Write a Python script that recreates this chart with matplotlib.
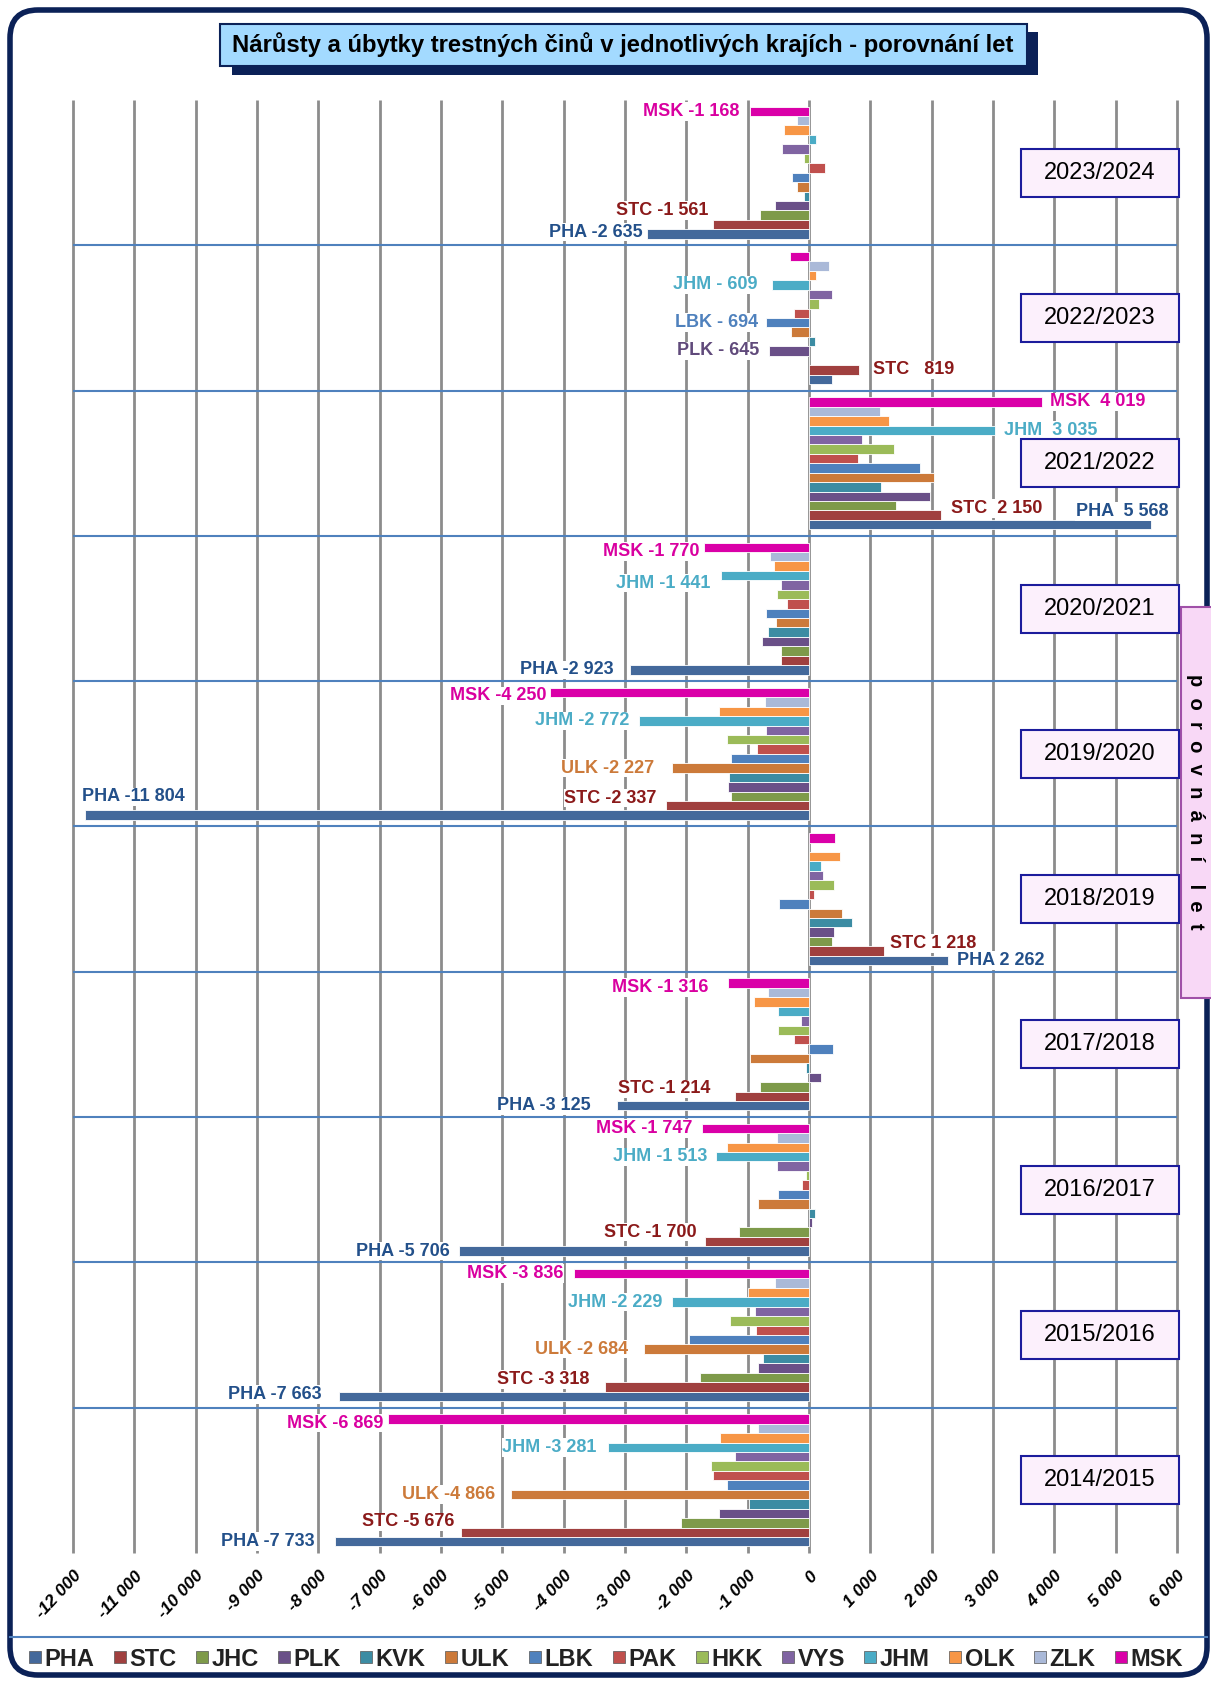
import matplotlib
matplotlib.use('Agg')
import matplotlib.pyplot as plt
import numpy as np
from matplotlib.patches import Rectangle, FancyBboxPatch
from matplotlib.lines import Line2D
from matplotlib.transforms import blended_transform_factory

plt.rcParams['font.family'] = ['Liberation Sans', 'DejaVu Sans']

REGIONS = ['PHA', 'STC', 'JHC', 'PLK', 'KVK', 'ULK', 'LBK', 'PAK', 'HKK', 'VYS',
           'JHM', 'OLK', 'ZLK', 'MSK']
COLORS = ['#44699B', '#A0403F', '#7E9A4A', '#6A5088', '#3C8CA3', '#CC7A3A', '#4F81BD',
          '#C0504D', '#9BBB59', '#8064A2', '#4BACC6', '#F79646', '#AAB9D8', '#DA00A8']
PERIODS = ['2014/2015', '2015/2016', '2016/2017', '2017/2018', '2018/2019',
           '2019/2020', '2020/2021', '2021/2022', '2022/2023', '2023/2024']

# changes per region, order as REGIONS (PHA ... MSK)
d_1415 = [-7733, -5676, -2082, -1467, -984, -4866, -1342, -1560, -1598, -1212, -3281, -1451, -837, -6869]
d_1516 = [-7663, -3318, -1772, -826, -745, -2684, -1957, -870, -1283, -880, -2229, -995, -554, -3836]
d_1617 = [-5706, -1700, -1141, 49, 103, -837, -505, -114, -49, -516, -1513, -1342, -522, -1747]
d_1718 = [-3125, -1214, -799, 201, -43, -962, 397, -245, -500, -136, -511, -902, -663, -1316]
d_1819 = [2262, 1218, 375, 408, 707, 543, -489, 87, 413, 234, 201, 511, 0, 424]
d_1920 = [-11804, -2337, -1277, -1321, -1304, -2227, -1277, -848, -1332, -696, -2772, -1462, -723, -4220]
d_2021 = [-2923, -457, -457, -761, -663, -533, -696, -353, -522, -451, -1441, -565, -630, -1710]
d_2122 = [5568, 2150, 1425, 1975, 1181, 2031, 1806, 806, 1381, 862, 3035, 1306, 1150, 3800]
d_2223 = [370, 819, 0, -645, 103, -293, -694, -240, 163, 370, -609, 120, 330, -310]
d_2324 = [-2635, -1561, -800, -560, -82, -196, -272, 255, -82, -435, 120, -410, -200, -960]
DATA = [d_1415, d_1516, d_1617, d_1718, d_1819, d_1920, d_2021, d_2122, d_2223, d_2324]

LABEL_COL = {'PHA': '#23508A', 'STC': '#8B1A1A', 'MSK': '#D900A0', 'JHM': '#4BACC6',
             'ULK': '#CC7A3A', 'LBK': '#4F81BD', 'PLK': '#604A7B'}
# (period index, region, text, dx px, dy rows, ha)
LABELS = [
    (9, 'MSK', 'MSK -1 168', -11, 0, 'right'),
    (9, 'STC', 'STC -1 561', -5, 1.5, 'right'),
    (9, 'PHA', 'PHA -2 635', -5, 0.2, 'right'),
    (8, 'JHM', 'JHM - 609', -14, 0, 'right'),
    (8, 'LBK', 'LBK - 694', -8, 0, 'right'),
    (8, 'PLK', 'PLK - 645', -10, 0, 'right'),
    (8, 'STC', 'STC   819', 14, 0, 'left'),
    (7, 'MSK', 'MSK  4 019', 8, 0, 'left'),
    (7, 'JHM', 'JHM  3 035', 9, 0, 'left'),
    (7, 'STC', 'STC  2 150', 10, 0.7, 'left'),
    (7, 'PHA', 'PHA  5 568', 18, 1.4, 'right'),
    (6, 'MSK', 'MSK -1 770', -5, -0.45, 'right'),
    (6, 'JHM', 'JHM -1 441', -10, -0.8, 'right'),
    (6, 'PHA', 'PHA -2 923', -16, 0, 'right'),
    (5, 'MSK', 'MSK -4 250', -4, -0.35, 'right'),
    (5, 'JHM', 'JHM -2 772', -10, 0, 'right'),
    (5, 'ULK', 'ULK -2 227', -18, 0, 'right'),
    (5, 'STC', 'STC -2 337', -9, 0.8, 'right'),
    (5, 'PHA', 'PHA -11 804', -3, 1.95, 'left'),
    (4, 'STC', 'STC 1 218', 6, 0.8, 'left'),
    (4, 'PHA', 'PHA 2 262', 9, 0, 'left'),
    (3, 'MSK', 'MSK -1 316', -20, -0.45, 'right'),
    (3, 'STC', 'STC -1 214', -24, 0.8, 'right'),
    (3, 'PHA', 'PHA -3 125', -27, 0, 'right'),
    (2, 'MSK', 'MSK -1 747', -9, 0, 'right'),
    (2, 'JHM', 'JHM -1 513', -9, 0, 'right'),
    (2, 'STC', 'STC -1 700', -8, 1.0, 'right'),
    (2, 'PHA', 'PHA -5 706', -9, 0, 'right'),
    (1, 'MSK', 'MSK -3 836', -10, 0, 'right'),
    (1, 'JHM', 'JHM -2 229', -10, 0, 'right'),
    (1, 'ULK', 'ULK -2 684', -16, 0, 'right'),
    (1, 'STC', 'STC -3 318', -16, 0.8, 'right'),
    (1, 'PHA', 'PHA -7 663', -17, 0.2, 'right'),
    (0, 'MSK', 'MSK -6 869', -4, -0.45, 'right'),
    (0, 'JHM', 'JHM -3 281', -11, 0, 'right'),
    (0, 'ULK', 'ULK -4 866', -15, 0, 'right'),
    (0, 'STC', 'STC -5 676', -6, 1.1, 'right'),
    (0, 'PHA', 'PHA -7 733', -20, 0, 'right'),
]

TITLE = 'Nárůsty a úbytky trestných činů v jednotlivých krajích - porovnání let'
SIDE = 'p  o  r  o  v  n  á  n  í    l  e  t'
NAVY = '#0B2157'
SEP = '#4F81BD'

W, H = 1211, 1684
fig = plt.figure(figsize=(W / 100, H / 100), dpi=100)

# ---- background / decorations in pixel coords ----
bg = fig.add_axes([0, 0, 1, 1], zorder=0)
bg.set_xlim(0, W); bg.set_ylim(H, 0); bg.axis('off')
bg.add_patch(FancyBboxPatch((10, 10), 1197, 1665, boxstyle='round,pad=0,rounding_size=28',
                            fc='white', ec=NAVY, lw=4))
bg.plot([10, 1207], [1637, 1637], color=SEP, lw=1.5)
# title box with shadow
bg.add_patch(Rectangle((232, 32), 806, 43, fc=NAVY, ec='none'))
bg.add_patch(Rectangle((220, 24), 807, 42, fc='#A3DAFF', ec=NAVY, lw=1.5))
bg.text(623, 45, TITLE, ha='center', va='center', fontsize=17.2, fontweight='bold', color='black')
# side box
bg.add_patch(Rectangle((1181, 607), 40, 391, fc='#F8D8F6', ec='#A050A8', lw=1.5))
bg.text(1195, 802, SIDE, rotation=-90, ha='center', va='center',
        fontsize=14.5, fontweight='bold', color='black')

# ---- main chart ----
ax = fig.add_axes([73 / W, 1 - 1553 / H, 1104 / W, 1453 / H], zorder=1)
ax.patch.set_alpha(0)
n = len(REGIONS)
h = 1 / 15.4
groups = np.arange(len(PERIODS))
vals = np.array(DATA)
for i, reg in enumerate(REGIONS):
    ax.barh(groups + (i - 6.5) * h, vals[:, i], height=h, color=COLORS[i],
            edgecolor='white', lw=0.6, zorder=3)

ticks = np.arange(-12000, 6001, 1000)
ax.vlines(ticks, -0.5, 9.5, color='#8C8C8C', lw=2, zorder=1, clip_on=False)
for g in groups[:-1]:
    ax.axhline(g + 0.5, color=SEP, lw=1.5, zorder=2)
ax.set_xlim(-12000, 6000)
ax.set_ylim(-0.5, 9.5)
ax.set_xticks(ticks)
ax.set_xticklabels(['{:,}'.format(t).replace(',', ' ') for t in ticks], rotation=47,
                   ha='right', va='top', rotation_mode='anchor', fontsize=12.5,
                   fontweight='bold', fontstyle='italic')
ax.tick_params(axis='x', length=0, pad=11)
ax.set_yticks([])
for s in ax.spines.values():
    s.set_visible(False)

# period boxes
tr = blended_transform_factory(ax.transAxes, ax.transData)
for g, p in enumerate(PERIODS):
    ax.add_patch(Rectangle((0.8587, g - 0.165), 0.1431, 0.33, transform=tr, fc='#FCF0FC',
                           ec='#1C1C9C', lw=1.5, zorder=6, clip_on=False))
    ax.text(0.8587 + 0.0716, g, p, transform=tr, ha='center', va='center', fontsize=17, zorder=7)

# value labels
for g, reg, txt, dx, dy, ha in LABELS:
    i = REGIONS.index(reg)
    y = g + (i - 6.5) * h + dy * h
    ax.annotate(txt, (DATA[g][i], y), xytext=(dx, 0), textcoords='offset pixels',
                ha=ha, va='center', fontsize=13, fontweight='bold', color=LABEL_COL[reg],
                bbox=dict(fc='white', ec='none', pad=0.5), zorder=5)

# legend
handles = [Line2D([], [], marker='s', ls='', markersize=9, markerfacecolor=c,
                  markeredgecolor='#555555', markeredgewidth=0.5) for c in COLORS]
leg = fig.legend(handles, REGIONS, loc='center', bbox_to_anchor=(0.5, 1 - 1659 / H), ncol=n,
                 frameon=False, prop={'weight': 'bold', 'size': 17}, handlelength=0.6,
                 handletextpad=0.1, columnspacing=0.78)
for t in leg.get_texts():
    t.set_color('#222222')

fig.savefig('out.png', dpi=100, facecolor='white')
